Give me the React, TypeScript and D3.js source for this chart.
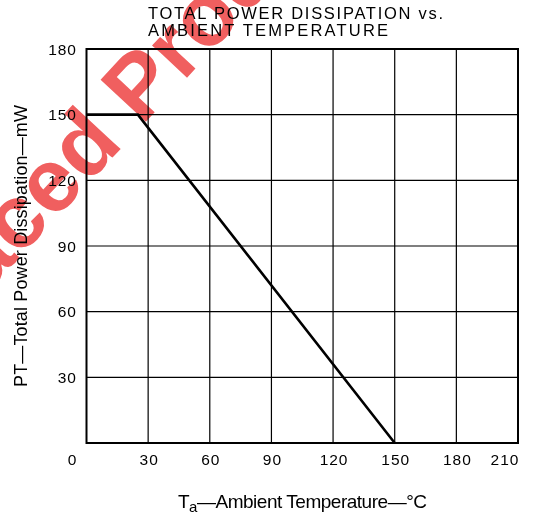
import React from "react";
import * as d3 from "d3";

const xTicks = [0, 30, 60, 90, 120, 150, 180, 210];
const yTicks = [0, 30, 60, 90, 120, 150, 180];
const yTickLabels = ["30", "60", "90", "120", "150", "180"];
const curveTemp = [0, 25, 150];
const curvePower = [150, 150, 0];

const FONT = "'Liberation Sans', Arial, Helvetica, sans-serif";

export default function App() {
  const W = 536, H = 515;
  const x = d3.scaleLinear().domain([0, 210]).range([86.5, 518]);
  const y = d3.scaleLinear().domain([0, 180]).range([443, 49]);
  const line = d3
    .line<number>()
    .x((_, i) => x(curveTemp[i]))
    .y((_, i) => y(curvePower[i]));

  const wmSize = 90;
  return (
    <svg width={W} height={H} style={{ position: "absolute", left: 0, top: 0, background: "#fff" }} fontFamily={FONT}>
      <rect width={W} height={H} fill="#fff" />
      {/* grid */}
      {xTicks.slice(1, -1).map((t) => (
        <line key={"gx" + t} x1={x(t)} x2={x(t)} y1={y(0)} y2={y(180)} stroke="#000" strokeWidth={1.2} />
      ))}
      {yTicks.slice(1, -1).map((t) => (
        <line key={"gy" + t} x1={x(0)} x2={x(210)} y1={y(t)} y2={y(t)} stroke="#000" strokeWidth={1.2} />
      ))}
      <rect x={x(0)} y={y(180)} width={x(210) - x(0)} height={y(0) - y(180)} fill="none" stroke="#000" strokeWidth={2} />
      {/* curve */}
      <path d={line(curveTemp) || ""} fill="none" stroke="#000" strokeWidth={2.6} />
      {/* y tick labels */}
      {yTickLabels.map((l) => (
        <text key={"yl" + l} x={77} y={y(+l) + 5.5} textAnchor="end" fontSize={15.5} letterSpacing={1} fill="#000">
          {l}
        </text>
      ))}
      {/* x tick labels */}
      {xTicks.map((t, i) => {
        const dx = i === 0 ? -14 : i === xTicks.length - 1 ? -13 : 1;
        return (
          <text key={"xl" + t} x={x(t) + dx} y={465} textAnchor="middle" fontSize={15.5} letterSpacing={1} fill="#000">
            {String(t)}
          </text>
        );
      })}
      {/* title */}
      <text x={148} y={18.5} fontSize={16.5} textLength={295} lengthAdjust="spacing" fill="#000">
        TOTAL POWER DISSIPATION vs.
      </text>
      <text x={148} y={35.5} fontSize={16.5} textLength={240} lengthAdjust="spacing" fill="#000">
        AMBIENT TEMPERATURE
      </text>
      {/* x axis title */}
      <text x={178} y={508} fontSize={19} textLength={249} lengthAdjust="spacing" fill="#000">
        T<tspan fontSize={15} dy={4}>a</tspan>
        <tspan dy={-4}>—Ambient Temperature—°C</tspan>
      </text>
      {/* y axis title */}
      <text transform="translate(27,387) rotate(-90)" x={0} y={0} fontSize={18} textLength={282} lengthAdjust="spacing" fill="#000">
        PT—Total Power Dissipation—mW
      </text>
      {/* watermark */}
      <text
        transform="translate(19,258) rotate(-47)"
        x={-2.723 * wmSize}
        fontSize={wmSize}
        fontWeight="bold"
        fill="rgb(240,95,95)"
        style={{ mixBlendMode: "multiply" }}
      >
        Replaced Product
      </text>
    </svg>
  );
}
